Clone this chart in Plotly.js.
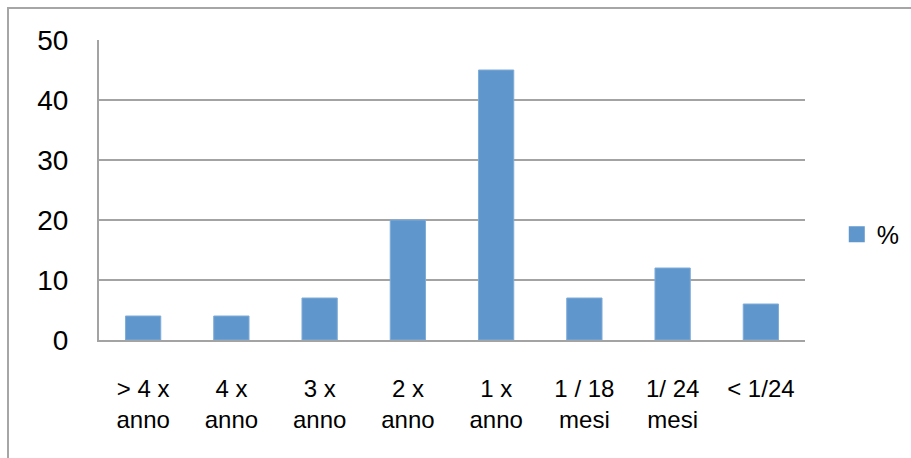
<!DOCTYPE html>
<html>
<head>
<meta charset="utf-8">
<script src="https://cdn.plot.ly/plotly-3.0.1.min.js"></script>
<style>
  html, body { margin: 0; padding: 0; background: #ffffff; overflow: hidden; }
  #frame { position: absolute; left: 7px; top: 7px; width: 1000px; height: 1000px;
           border: 2px solid #a6a6a6; box-sizing: border-box; }
  #chart { position: absolute; left: 0; top: 0; width: 911px; height: 458px; }
</style>
</head>
<body>
<div id="frame"></div>
<div id="chart"></div>
<script>
const categories = ['> 4 x<br>anno', '4 x<br>anno', '3 x<br>anno', '2 x<br>anno',
                    '1 x<br>anno', '1 / 18<br>mesi', '1/ 24<br>mesi', '< 1/24'];
const values = [4, 4, 7, 20, 45, 7, 12, 6];
const seriesName = '%';
const yTicks = [0, 10, 20, 30, 40, 50];

const barColor = '#5f96cc';
const gridColor = '#a3a3a3';

const traces = [
  {
    type: 'bar',
    x: categories,
    y: values,
    name: seriesName,
    showlegend: false,
    marker: { color: barColor, line: { color: '#80acd8', width: 1 } },
    hoverinfo: 'x+y'
  },
  {
    type: 'scatter',
    mode: 'markers',
    x: [null],
    y: [null],
    name: seriesName,
    marker: { symbol: 'square', size: 18, color: barColor },
    showlegend: true
  }
];

const layout = {
  width: 911,
  height: 458,
  margin: { l: 99, r: 106, t: 40, b: 118, autoexpand: false },
  paper_bgcolor: 'rgba(0,0,0,0)',
  plot_bgcolor: 'rgba(0,0,0,0)',
  font: { family: 'Liberation Sans, Arial, sans-serif', color: '#000000' },
  bargap: 0.6,
  xaxis: {
    type: 'category',
    tickfont: { size: 24, color: '#000000' },
    showline: true,
    linecolor: gridColor,
    linewidth: 2,
    ticks: '',
    showgrid: false,
    ticklabelstandoff: 26,
    automargin: false,
    fixedrange: true
  },
  yaxis: {
    range: [0, 50],
    tickvals: yTicks,
    ticktext: yTicks.map(String),
    tickfont: { size: 28, color: '#000000' },
    showline: true,
    linecolor: gridColor,
    linewidth: 2,
    showgrid: true,
    gridcolor: gridColor,
    gridwidth: 2,
    zeroline: false,
    ticks: '',
    ticklabelstandoff: 23,
    automargin: false,
    fixedrange: true
  },
  showlegend: true,
  legend: {
    x: 1.045,
    xanchor: 'left',
    y: 0.352,
    yanchor: 'middle',
    font: { size: 25, color: '#000000' },
    bgcolor: 'rgba(0,0,0,0)'
  }
};

Plotly.newPlot('chart', traces, layout, { displayModeBar: false, staticPlot: true });
</script>
</body>
</html>
